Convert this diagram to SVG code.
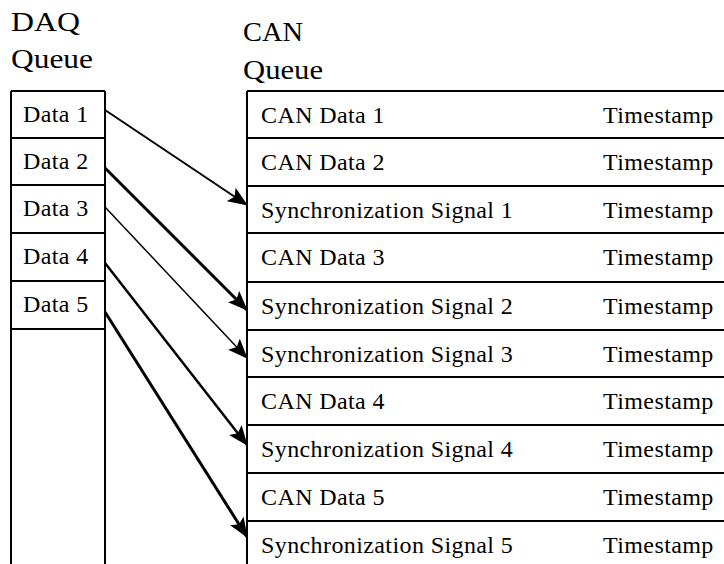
<svg xmlns="http://www.w3.org/2000/svg" width="724" height="564" viewBox="0 0 724 564">
<style>
text{font-family:"Liberation Serif","Times New Roman",serif;fill:#000}
.t{font-size:24px;letter-spacing:0.4px}
.h{font-size:28px}
.ln{stroke:#000;stroke-width:2;fill:none}
.ar{stroke:#000;fill:none}
</style>
<defs>
<marker id="ah" viewBox="0 0 20 16" refX="19" refY="8" markerWidth="20" markerHeight="16" markerUnits="userSpaceOnUse" orient="auto">
<path d="M0,0 L20,8 L0,16 L4,8 Z" fill="#000" stroke="none"/>
</marker>
</defs>
<rect width="724" height="564" fill="#fff"/>
<g id="daq-header">
<text class="h" x="11" y="31" textLength="69" lengthAdjust="spacingAndGlyphs">DAQ</text>
<text class="h" x="11" y="68" textLength="82" lengthAdjust="spacingAndGlyphs">Queue</text>
</g>
<g id="can-header">
<text class="h" x="243" y="41" textLength="60" lengthAdjust="spacingAndGlyphs">CAN</text>
<text class="h" x="243" y="79" textLength="80" lengthAdjust="spacingAndGlyphs">Queue</text>
</g>
<g id="daq-queue">
<path class="ln" d="M11,91 V564 M105,91 V564 M11,91 H105 M11,138 H105 M11,185 H105 M11,233 H105 M11,281 H105 M11,329 H105"/>
</g>
<g id="daq1"><text class="t" x="23" y="122">Data 1</text></g>
<g id="daq2"><text class="t" x="23" y="169">Data 2</text></g>
<g id="daq3"><text class="t" x="23" y="216">Data 3</text></g>
<g id="daq4"><text class="t" x="23" y="264">Data 4</text></g>
<g id="daq5"><text class="t" x="23" y="312">Data 5</text></g>
<g id="can-queue">
<path class="ln" d="M247,91 V564 M247,91 H724 M247,138 H724 M247,186 H724 M247,233 H724 M247,282 H724 M247,330 H724 M247,377 H724 M247,425 H724 M247,473 H724 M247,521 H724"/>
</g>
<g id="can1"><text class="t" x="261" y="123">CAN Data 1</text><text class="t" x="603" y="123">Timestamp</text></g>
<g id="can2"><text class="t" x="261" y="170">CAN Data 2</text><text class="t" x="603" y="170">Timestamp</text></g>
<g id="sync1"><text class="t" x="261" y="218">Synchronization Signal 1</text><text class="t" x="603" y="218">Timestamp</text></g>
<g id="can3"><text class="t" x="261" y="265">CAN Data 3</text><text class="t" x="603" y="265">Timestamp</text></g>
<g id="sync2"><text class="t" x="261" y="314">Synchronization Signal 2</text><text class="t" x="603" y="314">Timestamp</text></g>
<g id="sync3"><text class="t" x="261" y="362">Synchronization Signal 3</text><text class="t" x="603" y="362">Timestamp</text></g>
<g id="can4"><text class="t" x="261" y="409">CAN Data 4</text><text class="t" x="603" y="409">Timestamp</text></g>
<g id="sync4"><text class="t" x="261" y="457">Synchronization Signal 4</text><text class="t" x="603" y="457">Timestamp</text></g>
<g id="can5"><text class="t" x="261" y="505">CAN Data 5</text><text class="t" x="603" y="505">Timestamp</text></g>
<g id="sync5"><text class="t" x="261" y="553">Synchronization Signal 5</text><text class="t" x="603" y="553">Timestamp</text></g>
<g id="connectors">
<line class="ar" x1="105" y1="110" x2="247" y2="205" stroke-width="2" marker-end="url(#ah)"/>
<line class="ar" x1="105" y1="168" x2="247" y2="310" stroke-width="3" marker-end="url(#ah)"/>
<line class="ar" x1="105" y1="207" x2="247" y2="358" stroke-width="1.5" marker-end="url(#ah)"/>
<line class="ar" x1="105" y1="263" x2="247" y2="445" stroke-width="2.5" marker-end="url(#ah)"/>
<line class="ar" x1="105" y1="312" x2="247" y2="537" stroke-width="3" marker-end="url(#ah)"/>
</g>
</svg>
